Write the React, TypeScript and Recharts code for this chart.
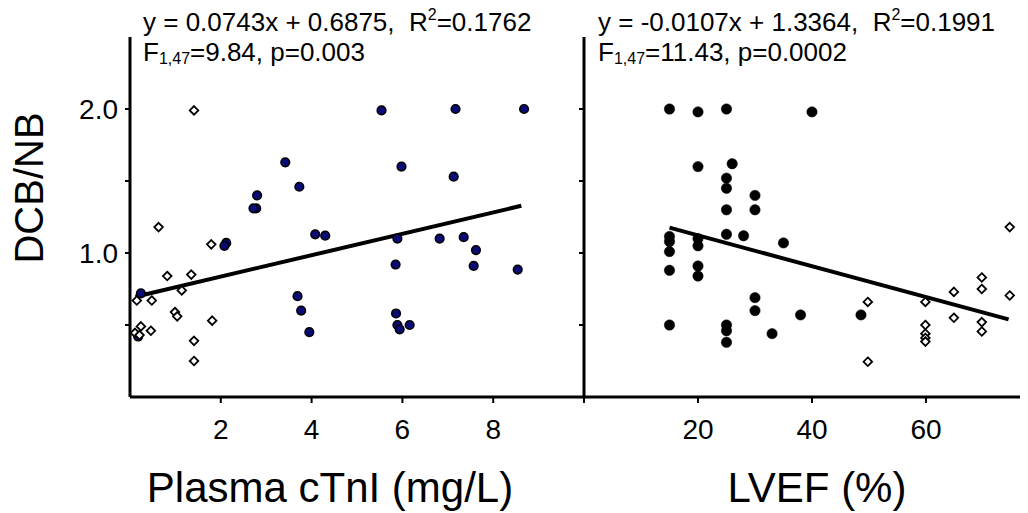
import React from 'react';
import { ScatterChart, Scatter, XAxis, YAxis, ReferenceLine } from 'recharts';

// ---- Data ----
const cTnIFilledX = [3.42, 3.73, 2.80, 2.78, 2.72, 4.08, 4.30, 5.54, 7.17, 8.68, 5.98, 7.13, 5.89, 6.82, 7.35, 7.62, 5.85, 7.57, 8.54, 5.86, 5.89, 5.94, 6.16, 2.12, 2.08, 0.24, 0.18, 3.69, 3.77, 3.95];
const cTnIFilledY = [1.63, 1.46, 1.40, 1.31, 1.31, 1.13, 1.12, 1.99, 2.00, 2.00, 1.60, 1.53, 1.10, 1.10, 1.11, 1.02, 0.92, 0.91, 0.885, 0.58, 0.50, 0.47, 0.50, 1.07, 1.05, 0.72, 0.42, 0.70, 0.60, 0.45];
const cTnIOpenX = [1.41, 0.63, 1.79, 0.82, 1.35, 1.14, 0.15, 0.48, 0.99, 1.04, 1.81, 0.24, 0.46, 0.11, 0.21, 1.41, 1.41];
const cTnIOpenY = [1.99, 1.18, 1.06, 0.84, 0.85, 0.74, 0.67, 0.67, 0.59, 0.56, 0.53, 0.49, 0.46, 0.445, 0.43, 0.39, 0.25];

const lvefFilledX = [15, 20, 25, 40, 20, 26, 25, 25, 30, 25, 30, 15, 15, 15, 15, 15, 20, 20, 20, 20, 25, 28, 35, 30, 30, 25, 25, 25, 33, 38, 48.6];
const lvefFilledY = [2.00, 1.98, 2.00, 1.98, 1.60, 1.62, 1.52, 1.45, 1.40, 1.30, 1.30, 1.115, 1.08, 1.01, 0.88, 0.50, 1.10, 1.05, 0.91, 0.84, 1.13, 1.12, 1.07, 0.69, 0.60, 0.50, 0.46, 0.38, 0.44, 0.57, 0.57];
const lvefOpenX = [74.7, 69.8, 69.8, 74.7, 64.9, 49.8, 59.9, 64.9, 69.8, 69.8, 59.9, 59.9, 59.9, 59.9, 49.8];
const lvefOpenY = [1.18, 0.83, 0.75, 0.705, 0.73, 0.66, 0.66, 0.55, 0.52, 0.455, 0.50, 0.44, 0.41, 0.385, 0.245];

// regression fits (from the equations printed on the chart)
const cTnIFit = { slope: 0.0743, intercept: 0.6875, xFrom: 0.12, xTo: 8.62 };
const lvefFit = { slope: -0.0107, intercept: 1.3364, xFrom: 15, xTo: 74.5 };

const yTicks = [0.5, 1.0, 1.5, 2.0];
const yTickLabels: Record<string, string> = { '1': '1.0', '2': '2.0' };
const cTnITicks = [2, 4, 6, 8, 10];
const lvefTicks = [0, 20, 40, 60];

const zip = (xs: number[], ys: number[]) => xs.map((x, i) => ({ x, y: ys[i] }));
const fitLine = (f: { slope: number; intercept: number; xFrom: number; xTo: number }) => [
  { x: f.xFrom, y: f.slope * f.xFrom + f.intercept },
  { x: f.xTo, y: f.slope * f.xTo + f.intercept },
];

const FONT = '"Liberation Sans", Arial, Helvetica, sans-serif';

const navyDot = (p: any) => (
  <circle cx={p.cx} cy={p.cy} r={4.3} fill="#0b0b78" stroke="#000" strokeWidth={1.6} />
);
const blackDot = (p: any) => <circle cx={p.cx} cy={p.cy} r={5.2} fill="#000" stroke="#000" strokeWidth={0.5} />;
const diamond = (p: any) => {
  const s = 4.3;
  return (
    <path
      d={`M${p.cx},${p.cy - s}L${p.cx + s},${p.cy}L${p.cx},${p.cy + s}L${p.cx - s},${p.cy}Z`}
      fill="#fff"
      stroke="#000"
      strokeWidth={1.8}
    />
  );
};

const axisLine = { stroke: '#000', strokeWidth: 3 };
const tickLine = { stroke: '#000', strokeWidth: 2 };
const tickStyle = { fill: '#000', fontSize: 28, fontFamily: FONT };

const TOP = 37;
const BOTTOM = 513 - 397;

const supStyle = { fontSize: 16, verticalAlign: 'top', lineHeight: '16px' } as const;
const subStyle = { fontSize: 16, verticalAlign: 'bottom', lineHeight: '16px' } as const;

export default function App() {
  return (
    <div style={{ position: 'absolute', left: 0, top: 0, width: 1028, height: 513, background: '#fff', fontFamily: FONT, color: '#000' }}>
      {/* right panel */}
      <div style={{ position: 'absolute', left: 0, top: 0 }}>
        <ScatterChart width={1028} height={513} margin={{ top: TOP, right: 8, bottom: 0, left: 0 }}>
          <XAxis
            type="number"
            dataKey="x"
            domain={[0, 76.5]}
            ticks={lvefTicks}
            tickFormatter={(v: number) => (v === 0 ? '' : String(v))}
            height={BOTTOM}
            axisLine={axisLine}
            tickLine={tickLine}
            tickSize={6}
            tickMargin={16}
            tick={tickStyle}
            allowDataOverflow
          />
          <YAxis
            type="number"
            dataKey="y"
            domain={[0, 2.5]}
            ticks={yTicks}
            tickFormatter={() => ''}
            width={584}
            axisLine={axisLine}
            tickLine={tickLine}
            tickSize={5}
            allowDataOverflow
          />
          <Scatter data={zip(lvefFilledX, lvefFilledY)} shape={blackDot} isAnimationActive={false} />
          <ReferenceLine segment={fitLine(lvefFit)} stroke="#000" strokeWidth={4} />
          <Scatter data={zip(lvefOpenX, lvefOpenY)} shape={diamond} isAnimationActive={false} />
        </ScatterChart>
      </div>
      {/* left panel */}
      <div style={{ position: 'absolute', left: 0, top: 0 }}>
        <ScatterChart width={600} height={513} margin={{ top: TOP, right: 16, bottom: 0, left: 0 }}>
          <XAxis
            type="number"
            dataKey="x"
            domain={[0, 10]}
            ticks={cTnITicks}
            tickFormatter={(v: number) => (v === 10 ? '' : String(v))}
            height={BOTTOM}
            axisLine={axisLine}
            tickLine={tickLine}
            tickSize={6}
            tickMargin={16}
            tick={tickStyle}
            allowDataOverflow
          />
          <YAxis
            type="number"
            dataKey="y"
            domain={[0, 2.5]}
            ticks={yTicks}
            tickFormatter={(v: number) => yTickLabels[String(v)] ?? ''}
            width={130}
            axisLine={axisLine}
            tickLine={tickLine}
            tickSize={5}
            tickMargin={7}
            tick={tickStyle}
            allowDataOverflow
          />
          <Scatter data={zip(cTnIFilledX, cTnIFilledY)} shape={navyDot} isAnimationActive={false} />
          <ReferenceLine segment={fitLine(cTnIFit)} stroke="#000" strokeWidth={4} />
          <Scatter data={zip(cTnIOpenX, cTnIOpenY)} shape={diamond} isAnimationActive={false} />
        </ScatterChart>
      </div>

      {/* annotations */}
      <div style={{ position: 'absolute', left: 143, top: 7, fontSize: 26, whiteSpace: 'nowrap', lineHeight: '30px' }}>
        <div>y = 0.0743x + 0.6875,&nbsp; R<sup style={supStyle}>2</sup>=0.1762</div>
        <div>F<sub style={subStyle}>1,47</sub>=9.84, p=0.003</div>
      </div>
      <div style={{ position: 'absolute', left: 598, top: 7, fontSize: 26, whiteSpace: 'nowrap', lineHeight: '30px' }}>
        <div>y = -0.0107x + 1.3364,&nbsp; R<sup style={supStyle}>2</sup>=0.1991</div>
        <div>F<sub style={subStyle}>1,47</sub>=11.43, p=0.0002</div>
      </div>

      {/* axis titles */}
      <div style={{ position: 'absolute', left: 29, top: 188, transform: 'translate(-50%, -50%) rotate(-90deg)', fontSize: 40, whiteSpace: 'nowrap', lineHeight: 1 }}>
        DCB/NB
      </div>
      <div style={{ position: 'absolute', left: 330, top: 488, transform: 'translate(-50%, -50%)', fontSize: 42, whiteSpace: 'nowrap', lineHeight: 1 }}>
        Plasma cTnI (mg/L)
      </div>
      <div style={{ position: 'absolute', left: 817, top: 488, transform: 'translate(-50%, -50%)', fontSize: 42, whiteSpace: 'nowrap', lineHeight: 1 }}>
        LVEF (%)
      </div>
    </div>
  );
}
